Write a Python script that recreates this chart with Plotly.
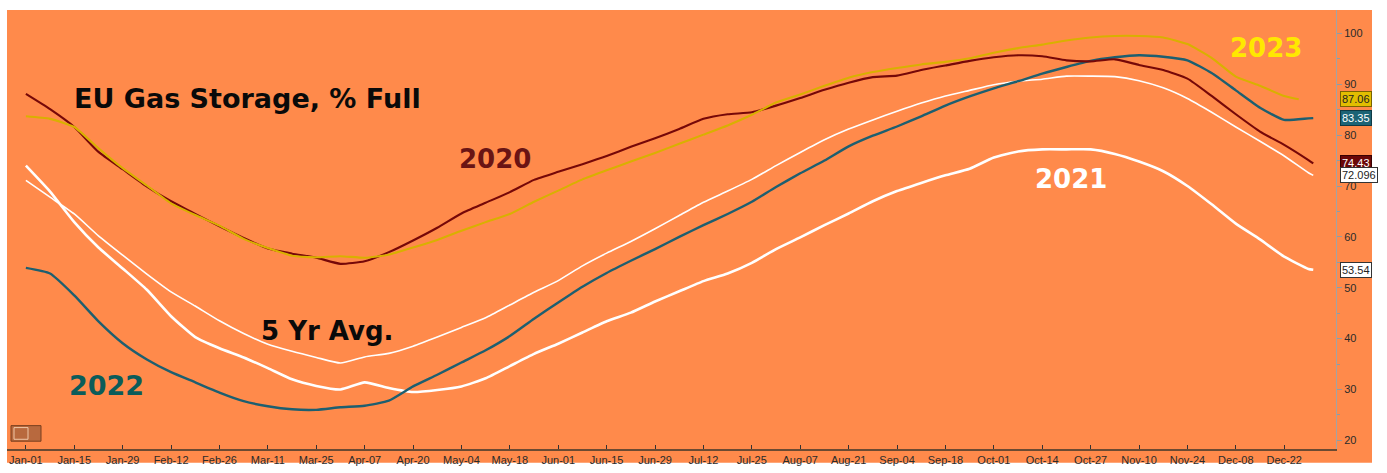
import plotly.graph_objects as go

# ---------------- data ----------------
# x positions are trading-day indexes from Jan-01 (every 5th trading day)
grid_days = [0, 5, 10, 15, 20, 25, 30, 35, 40, 45, 50, 55, 60, 65, 70, 75, 80, 85, 90, 95,
             100, 105, 110, 115, 120, 125, 130, 135, 140, 145, 150, 155, 160, 165, 170, 175,
             180, 185, 190, 195, 200, 205, 210, 215, 220, 225, 230, 235, 240, 245, 250, 255,
             260, 265, 266]
days_2023 = [0, 5, 10, 15, 20, 25, 30, 35, 40, 45, 50, 55, 60, 65, 70, 75, 80, 85, 90, 95,
             100, 105, 110, 115, 120, 125, 130, 135, 140, 145, 150, 155, 160, 165, 170, 175,
             180, 185, 190, 195, 200, 205, 210, 215, 220, 225, 230, 235, 240, 245, 250, 255,
             260, 263]

storage_2020 = [88.1, 85.1, 81.6, 76.7, 73.3, 69.9, 67.0, 64.5, 62.1, 59.8, 57.7, 56.7, 55.9,
                54.7, 55.2, 57.0, 59.3, 61.8, 64.6, 66.7, 68.8, 71.2, 72.8, 74.3, 75.9, 77.7,
                79.4, 81.2, 83.2, 84.1, 84.5, 85.8, 87.3, 88.9, 90.3, 91.4, 91.7, 92.8, 93.7,
                94.6, 95.3, 95.7, 95.5, 94.7, 94.5, 94.9, 93.8, 92.8, 91.1, 87.7, 84.1, 80.7,
                78.1, 75.1, 74.43]
storage_2021 = [74.0, 68.9, 62.9, 57.9, 53.8, 49.6, 44.4, 40.3, 38.1, 36.3, 34.2, 32.0, 30.7,
                30.0, 31.4, 30.3, 29.5, 29.9, 30.6, 32.2, 34.6, 37.0, 39.0, 41.2, 43.4, 45.1,
                47.3, 49.3, 51.3, 52.8, 54.9, 57.6, 59.9, 62.3, 64.6, 67.0, 69.0, 70.6, 72.1,
                73.4, 75.6, 76.8, 77.2, 77.2, 77.2, 76.3, 74.8, 72.9, 70.0, 66.4, 62.6, 59.5,
                56.1, 53.7, 53.54]
storage_2022 = [53.9, 52.8, 48.5, 43.4, 39.1, 35.9, 33.4, 31.4, 29.4, 27.7, 26.7, 26.1, 26.0,
                26.5, 26.8, 27.8, 30.6, 32.9, 35.3, 37.7, 40.5, 43.9, 47.1, 50.2, 52.9, 55.3,
                57.6, 60.0, 62.3, 64.5, 66.9, 69.8, 72.5, 75.0, 77.8, 79.9, 81.7, 83.7, 85.8,
                87.6, 89.2, 90.6, 92.1, 93.4, 94.6, 95.3, 95.7, 95.4, 94.7, 92.2, 88.8, 85.4,
                83.0, 83.3, 83.35]
storage_2023 = [83.7, 83.2, 81.6, 77.4, 73.5, 70.1, 66.6, 64.3, 62.2, 59.6, 57.8, 56.3, 56.0,
                56.2, 55.9, 56.5, 57.9, 59.4, 61.2, 62.9, 64.5, 66.9, 69.1, 71.3, 73.1, 74.8,
                76.5, 78.3, 80.1, 81.9, 84.0, 86.4, 88.0, 89.7, 91.3, 92.4, 93.2, 93.9, 94.4,
                95.1, 96.2, 97.1, 97.8, 98.6, 99.2, 99.5, 99.5, 99.2, 97.9, 95.2, 91.5, 89.7,
                87.7, 87.06]
avg_5yr = [71.1, 67.8, 64.5, 60.2, 56.4, 52.7, 49.2, 46.4, 43.5, 41.0, 38.9, 37.5, 36.3, 35.2,
           36.4, 37.1, 38.5, 40.3, 42.2, 44.1, 46.6, 49.1, 51.4, 54.3, 56.8, 59.1, 61.6, 64.2,
           66.8, 69.0, 71.3, 74.0, 76.6, 79.1, 81.2, 83.0, 84.7, 86.3, 87.7, 88.8, 89.9, 90.6,
           91.0, 91.6, 91.6, 91.5, 90.7, 89.3, 87.2, 84.5, 81.6, 78.8, 75.9, 72.6, 72.096]

tick_days = [0, 10, 20, 30, 40, 50, 60, 70, 80, 90, 100, 110, 120, 130, 140, 150, 160, 170,
             180, 190, 200, 210, 220, 230, 240, 250, 260]
tick_labels = ["Jan-01", "Jan-15", "Jan-29", "Feb-12", "Feb-26", "Mar-11", "Mar-25", "Apr-07",
               "Apr-20", "May-04", "May-18", "Jun-01", "Jun-15", "Jun-29", "Jul-12", "Jul-25",
               "Aug-07", "Aug-21", "Sep-04", "Sep-18", "Oct-01", "Oct-14", "Oct-27", "Nov-10",
               "Nov-24", "Dec-08", "Dec-22"]
y_ticks = [20, 30, 40, 50, 60, 70, 80, 90, 100]

last_labels = ["87.06", "83.35", "74.43", "72.096", "53.54"]
last_values = [87.06, 83.35, 74.43, 72.096, 53.54]

# ---------------- style ----------------
ORANGE = "#FF8A4B"
C2020 = "#760808"
C2021 = "#FFFFFF"
C2022 = "#1D5F70"
C2023 = "#D9B000"
C5YR = "#FFFFFF"

fig = go.Figure()
fig.add_trace(go.Scatter(x=grid_days, y=storage_2021, mode="lines", name="2021",
                         line=dict(color=C2021, width=2.6, shape="spline", smoothing=0.5)))
fig.add_trace(go.Scatter(x=grid_days, y=avg_5yr, mode="lines", name="5 Yr Avg.",
                         line=dict(color=C5YR, width=1.6, shape="spline", smoothing=0.5)))
fig.add_trace(go.Scatter(x=grid_days, y=storage_2022, mode="lines", name="2022",
                         line=dict(color=C2022, width=2.4, shape="spline", smoothing=0.5)))
fig.add_trace(go.Scatter(x=grid_days, y=storage_2020, mode="lines", name="2020",
                         line=dict(color=C2020, width=2.1, shape="spline", smoothing=0.5)))
fig.add_trace(go.Scatter(x=days_2023, y=storage_2023, mode="lines", name="2023",
                         line=dict(color=C2023, width=2.1, shape="spline", smoothing=0.5)))

W, H = 1387, 473
ML, MR, MT, MB = 7, 51, 10, 12
PW, PH = W - ML - MR, H - MT - MB


def px_x(px):
    return (px - ML) / PW


def px_y(py):
    return (H - MB - py) / PH


annotations = []
big = dict(family="DejaVu Sans, Verdana, sans-serif")
annotations.append(dict(text="<b>EU Gas Storage, % Full</b>", xref="paper", yref="paper",
                        x=px_x(72), y=px_y(101), xanchor="left", yanchor="middle",
                        showarrow=False, font=dict(big, size=27, color="#0a0a0a")))
annotations.append(dict(text="<b>2020</b>", xref="paper", yref="paper",
                        x=px_x(495), y=px_y(163), xanchor="center", yanchor="middle",
                        showarrow=False, font=dict(big, size=26, color="#6A1414")))
annotations.append(dict(text="<b>2023</b>", xref="paper", yref="paper",
                        x=px_x(1266), y=px_y(49), xanchor="center", yanchor="middle",
                        showarrow=False, font=dict(big, size=26, color="#FFE800")))
annotations.append(dict(text="<b>2021</b>", xref="paper", yref="paper",
                        x=px_x(1071), y=px_y(184), xanchor="center", yanchor="middle",
                        showarrow=False, font=dict(big, size=26, color="#FFFFFF")))
annotations.append(dict(text="<b>2022</b>", xref="paper", yref="paper",
                        x=px_x(106), y=px_y(396), xanchor="center", yanchor="middle",
                        showarrow=False, font=dict(big, size=27, color="#0B5C5A")))
annotations.append(dict(text="<b>5 Yr Avg.</b>", xref="paper", yref="paper",
                        x=px_x(327), y=px_y(340), xanchor="center", yanchor="middle",
                        showarrow=False, font=dict(big, size=26, color="#0a0a0a")))

tag_styles = [("#E2BE00", "#222222", "#7a6400"),
              ("#1D6375", "#FFFFFF", "#0f3a45"),
              ("#6A0808", "#FFFFFF", "#3a0000"),
              ("#FFFFFF", "#222222", "#333333"),
              ("#FFFFFF", "#222222", "#333333")]
for lab, val, (bg, fg, bd) in zip(last_labels, last_values, tag_styles):
    annotations.append(dict(text=lab, xref="paper", yref="y", x=1.0, y=val,
                            xanchor="left", yanchor="middle", xshift=4, showarrow=False,
                            bgcolor=bg, bordercolor=bd, borderwidth=1, borderpad=1,
                            font=dict(family="Liberation Sans, Arial, sans-serif",
                                      size=11, color=fg)))

shapes = [
    # orange backdrop behind the axis-label areas
    dict(type="rect", xref="paper", yref="paper", x0=0, x1=px_x(1372), y0=px_y(H + 2), y1=1,
         fillcolor=ORANGE, line=dict(width=0), layer="below"),
    # small chart-type button at bottom left
    dict(type="rect", xref="paper", yref="paper", x0=px_x(11), x1=px_x(41),
         y0=px_y(453), y1=px_y(437), fillcolor="#B8693E",
         line=dict(color="#7a3f1e", width=1)),
    dict(type="rect", xref="paper", yref="paper", x0=px_x(14), x1=px_x(28),
         y0=px_y(451), y1=px_y(439), fillcolor="rgba(0,0,0,0)",
         line=dict(color="#F0C8A8", width=1)),
]

fig.update_layout(
    width=W, height=H, autosize=False,
    margin=dict(l=ML, r=MR, t=MT, b=MB, pad=0),
    paper_bgcolor="#FFFFFF", plot_bgcolor=ORANGE,
    showlegend=False,
    annotations=annotations, shapes=shapes,
    xaxis=dict(range=[-3.9, 270.7], tickmode="array", tickvals=tick_days, ticktext=tick_labels,
               ticks="inside", ticklen=4, tickwidth=1, tickcolor="#333333",
               showline=True, linecolor="#6b4a32", linewidth=2,
               showgrid=False, zeroline=False, fixedrange=True,
               tickfont=dict(family="Liberation Sans, Arial, sans-serif", size=11, color="#2a2a2a")),
    yaxis=dict(range=[18.3, 104.6], side="right", tickmode="array", tickvals=y_ticks,
               ticks="outside", ticklen=5, tickwidth=1, tickcolor="#9a9a9a",
               minor=dict(dtick=5, ticks="outside", ticklen=3, tickcolor="#9a9a9a"),
               showline=True, linecolor="#a3a3a3", linewidth=1,
               showgrid=False, zeroline=False, fixedrange=True,
               tickfont=dict(family="Liberation Sans, Arial, sans-serif", size=11, color="#2a2a2a")),
)

fig.write_html("out.html", config={"displayModeBar": False},
               post_script="document.body.style.margin='0';document.body.style.overflow='hidden';")
